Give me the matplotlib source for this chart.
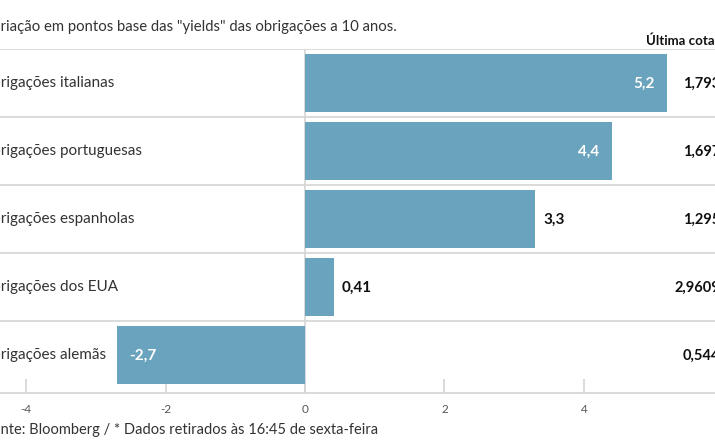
import matplotlib
matplotlib.use("Agg")
import matplotlib.pyplot as plt
from matplotlib.transforms import blended_transform_factory

# Data
categories = ["Obrigações italianas", "Obrigações portuguesas", "Obrigações espanholas",
              "Obrigações dos EUA", "Obrigações alemãs"]
values = [5.2, 4.4, 3.3, 0.41, -2.7]
value_labels = ["5,2", "4,4", "3,3", "0,41", "-2,7"]
last_quote = ["1,793%", "1,697%", "1,295%", "2,9609%", "0,544%"]
ticks = [-4, -2, 0, 2, 4]

title = 'Variação em pontos base das "yields" das obrigações a 10 anos.'
source = "Fonte: Bloomberg / * Dados retirados às 16:45 de sexta-feira"
col_header = "Última cotação*"

plt.rcParams['font.family'] = ['Lato', 'DejaVu Sans']
bar_color = "#6aa3bd"
grid_color = "#d4d4d4"
text_color = "#333333"

W, H = 715, 445
fig = plt.figure(figsize=(W / 100, H / 100), dpi=100)
fig.patch.set_facecolor("white")

# axes spans the full width; the picture is a crop of a wider graphic
top_px, bot_px = 49.3, 392.7
ax = fig.add_axes([0, (H - bot_px) / H, 1, (bot_px - top_px) / H])
zero_px, unit_px = 305.0, 69.7
ax.set_xlim(-zero_px / unit_px, (W - zero_px) / unit_px)
row_px = 68.0
nrows = (bot_px - top_px) / row_px
ax.set_ylim(nrows - 0.5, -0.5)

y = list(range(len(categories)))
ax.barh(y, values, height=0.85, color=bar_color, zorder=2)

# separators and zero line
for b in [-0.5 + i for i in range(len(categories))]:
    ax.axhline(b, color=grid_color, lw=1.2, zorder=1)
ax.axvline(0, color=grid_color, lw=1.2, zorder=1)

for s in ["top", "left", "right"]:
    ax.spines[s].set_visible(False)
ax.spines["bottom"].set_color(grid_color)
ax.spines["bottom"].set_linewidth(1.2)
ax.set_yticks([])
ax.set_xticks(ticks)
ax.set_xticklabels([str(t) for t in ticks])
ax.tick_params(axis="x", direction="in", length=10, color=grid_color, width=1.2,
               labelsize=8.5, labelcolor="#555555", pad=8)

renderer = fig.canvas.get_renderer()

def text_width(s, **kw):
    t = fig.text(0, 0, s, **kw)
    w = t.get_window_extent(renderer).width
    t.remove()
    return w

px = lambda x: x / W
py = lambda yy: 1 - yy / H
trans = blended_transform_factory(fig.transFigure, ax.transData)

# category labels (left edge cut off like the reference)
lab_kw = dict(fontsize=11, color=text_color)
cut = text_width("Ob", **lab_kw)
for yi, c in zip(y, categories):
    ax.text(px(1 - cut), yi, c, transform=trans, va="center", ha="left", **lab_kw)

# bar value labels
for yi, v, lab in zip(y, values, value_labels):
    if v > 4:
        ax.annotate(lab, (v, yi), xytext=(-9, 0), textcoords="offset points",
                    ha="right", va="center", color="white", fontsize=11, fontweight="bold")
    elif v < 0:
        ax.annotate(lab, (v, yi), xytext=(9, 0), textcoords="offset points",
                    ha="left", va="center", color="white", fontsize=11, fontweight="bold")
    else:
        ax.annotate(lab, (v, yi), xytext=(6, 0), textcoords="offset points",
                    ha="left", va="center", color="#111111", fontsize=11, fontweight="bold")

# last quote column (right edge cut off)
q_kw = dict(fontsize=10.5, fontweight="bold", color="#111111")
qw = text_width(last_quote[0], **q_kw)
for yi, q in zip(y, last_quote):
    ax.text(px(683 + qw), yi, q, transform=trans, va="center", ha="right", **q_kw)

fig.text(px(646), py(40), col_header, ha="left", va="center", fontsize=9.5,
         fontweight="bold", color="#111111")

# title and source
t_kw = dict(fontsize=10.7, color=text_color)
fig.text(px(1 - text_width("Va", **t_kw)), py(27), title, ha="left", va="center", **t_kw)
s_kw = dict(fontsize=10.5, color=text_color)
fig.text(px(1 - text_width("Fo", **s_kw)), py(430), source, ha="left", va="center", **s_kw)

fig.savefig("out.png", dpi=100, facecolor="white")
